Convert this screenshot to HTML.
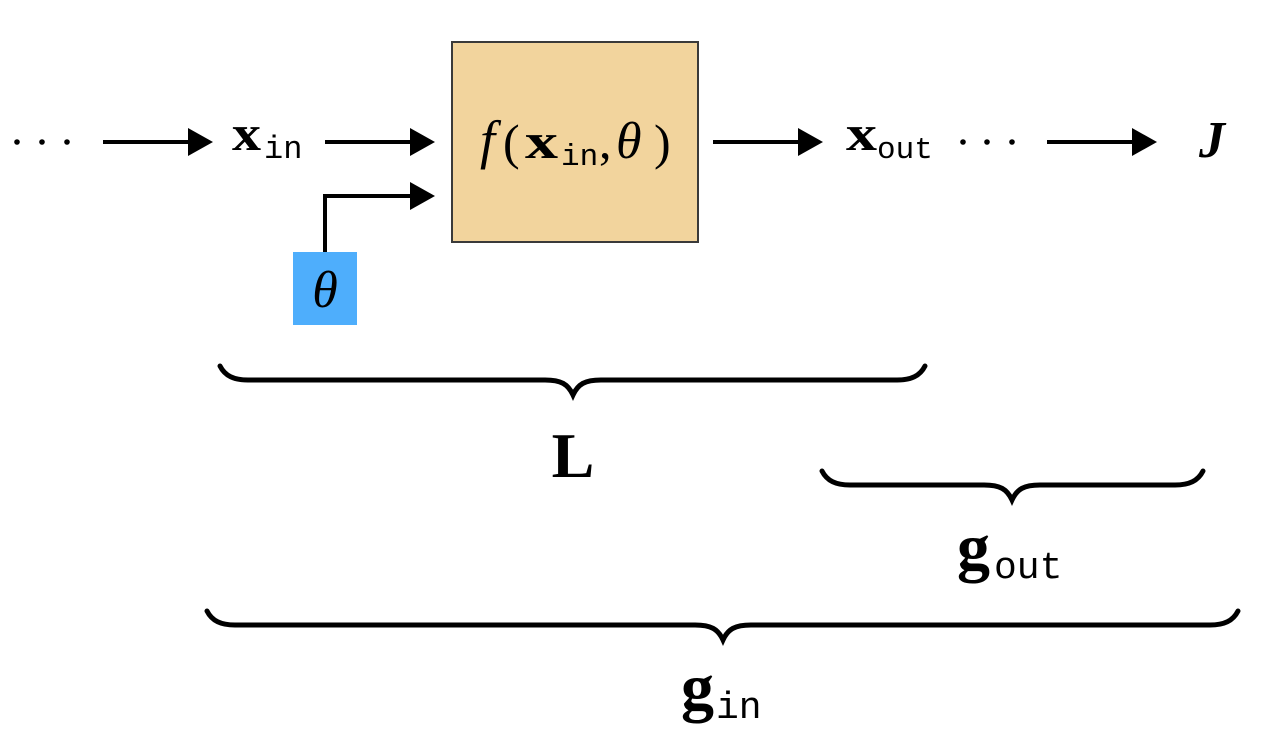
<!DOCTYPE html>
<html>
<head>
<meta charset="utf-8">
<style>
html,body{margin:0;padding:0;background:#fff;}
svg{display:block;}
.s{font-family:"Liberation Serif",serif;}
.m{font-family:"Liberation Mono",monospace;}
</style>
</head>
<body>
<svg width="1282" height="750" viewBox="0 0 1282 750" xmlns="http://www.w3.org/2000/svg">
  <rect x="0" y="0" width="1282" height="750" fill="#fff"/>

  <!-- left dots -->
  <circle cx="17" cy="142" r="2.8" fill="#000"/>
  <circle cx="42" cy="142" r="2.8" fill="#000"/>
  <circle cx="67" cy="142" r="2.8" fill="#000"/>

  <!-- arrow 1 -->
  <line x1="103" y1="142" x2="195" y2="142" stroke="#000" stroke-width="4"/>
  <polygon points="213,142 188,128 188,156" fill="#000"/>

  <!-- x_in -->
  <text x="232" y="150" class="s" font-size="50" font-weight="bold" textLength="29" lengthAdjust="spacingAndGlyphs">x</text>
  <text x="264" y="158" class="m" font-size="32">in</text>

  <!-- arrow 2 -->
  <line x1="325" y1="142" x2="417" y2="142" stroke="#000" stroke-width="4"/>
  <polygon points="435,142 410,128 410,156" fill="#000"/>

  <!-- theta connector -->
  <polyline points="325,252 325,196 417,196" fill="none" stroke="#000" stroke-width="4" stroke-linejoin="miter"/>
  <polygon points="435,196 410,182 410,210" fill="#000"/>

  <!-- theta box -->
  <rect x="293" y="252" width="64" height="73" fill="#4eaefc"/>
  <text x="325" y="307" class="s" font-size="52" font-style="italic" text-anchor="middle">θ</text>

  <!-- function box -->
  <rect x="452" y="42" width="246" height="200" fill="#f2d49d" stroke="#3a3a3a" stroke-width="2"/>
  <text x="480" y="158" class="s" font-size="54" font-style="italic">f</text>
  <text x="503" y="159" class="s" font-size="50">(</text>
  <text x="525" y="158" class="s" font-size="50" font-weight="bold" textLength="33" lengthAdjust="spacingAndGlyphs">x</text>
  <text x="561" y="165" class="m" font-size="31">in</text>
  <text x="599" y="158" class="s" font-size="50">,</text>
  <text x="616" y="158" class="s" font-size="52" font-style="italic">θ</text>
  <text x="654" y="159" class="s" font-size="50">)</text>

  <!-- arrow 3 -->
  <line x1="713" y1="142" x2="805" y2="142" stroke="#000" stroke-width="4"/>
  <polygon points="823,142 798,128 798,156" fill="#000"/>

  <!-- x_out -->
  <text x="846" y="150" class="s" font-size="50" font-weight="bold" textLength="31" lengthAdjust="spacingAndGlyphs">x</text>
  <text x="877" y="158" class="m" font-size="31">out</text>

  <!-- right dots -->
  <circle cx="963" cy="142" r="2.8" fill="#000"/>
  <circle cx="987" cy="142" r="2.8" fill="#000"/>
  <circle cx="1012" cy="142" r="2.8" fill="#000"/>

  <!-- arrow 4 -->
  <line x1="1047" y1="142" x2="1139" y2="142" stroke="#000" stroke-width="4"/>
  <polygon points="1157,142 1132,128 1132,156" fill="#000"/>

  <!-- J -->
  <text x="1212" y="157" class="s" font-size="52" font-style="italic" font-weight="bold" text-anchor="middle">J</text>

  <!-- brace L -->
  <path d="M220,366 C225,376 234,380 248,380 L545,380 C561,380 568,384 573,395 C578,384 585,380 601,380 L897,380 C911,380 920,376 925,366"
        fill="none" stroke="#000" stroke-width="5" stroke-linecap="round" stroke-linejoin="miter"/>
  <text x="573" y="477" class="s" font-size="64" font-weight="bold" text-anchor="middle">L</text>

  <!-- brace g_out -->
  <path d="M822,471 C827,481 836,485 850,485 L984,485 C1000,485 1007,489 1012,500 C1017,489 1024,485 1040,485 L1175,485 C1189,485 1198,481 1203,471"
        fill="none" stroke="#000" stroke-width="5" stroke-linecap="round" stroke-linejoin="miter"/>
  <text x="957" y="569" class="s" font-size="66" font-weight="bold">g</text>
  <text x="994" y="578" class="m" font-size="38">out</text>

  <!-- brace g_in -->
  <path d="M207,611 C212,621 221,625 235,625 L695,625 C711,625 718,629 723,640 C728,629 735,625 751,625 L1210,625 C1224,625 1233,621 1238,611"
        fill="none" stroke="#000" stroke-width="5" stroke-linecap="round" stroke-linejoin="miter"/>
  <text x="681" y="709" class="s" font-size="66" font-weight="bold">g</text>
  <text x="716" y="718" class="m" font-size="38">in</text>
</svg>
</body>
</html>
